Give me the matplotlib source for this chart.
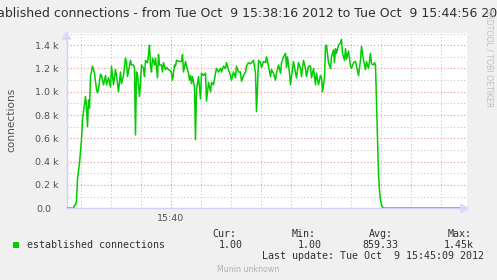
import matplotlib
matplotlib.use("Agg")
import matplotlib.pyplot as plt
from matplotlib.transforms import ScaledTranslation

# seconds after 15:38:16
seconds = [0, 7, 8, 9, 10, 11, 13, 15, 16, 19, 20, 21, 22, 23, 24, 26, 28, 30, 31, 32,
           34, 35, 37, 39, 40, 42, 44, 45, 47, 49, 50, 52, 54, 55, 57, 59, 60, 61, 63, 64,
           65, 67, 68, 69, 70, 71, 73, 74, 75, 77, 78, 79, 81, 82, 83, 84, 85, 86, 88, 89,
           90, 91, 92, 93, 95, 96, 97, 99, 100, 102, 104, 105, 106, 108, 109, 110, 113, 115, 116, 117,
           119, 120, 122, 123, 124, 125, 126, 128, 129, 130, 132, 134, 135, 137, 139, 140, 142, 144, 145, 147,
           149, 150, 152, 154, 155, 157, 159, 160, 162, 164, 165, 167, 169, 170, 172, 174, 175, 177, 179, 180,
           182, 184, 185, 187, 189, 190, 191, 192, 194, 195, 197, 199, 200, 202, 204, 205, 207, 209, 210, 212,
           214, 215, 217, 219, 220, 221, 223, 224, 225, 227, 229, 230, 232, 234, 235, 237, 239, 240, 242, 244,
           245, 247, 249, 250, 252, 254, 255, 256, 258, 259, 260, 262, 264, 265, 267, 268, 269, 270, 272, 274,
           275, 276, 278, 279, 280, 282, 284, 285, 287, 289, 290, 292, 294, 295, 297, 299, 300, 302, 304, 305,
           307, 308, 309, 310, 311, 312, 313, 314, 315, 316, 317, 400]
connections = [1, 1, 25, 30, 60, 250, 390, 590, 760, 960, 870, 700, 930, 860, 1130, 1220, 1160, 1020, 990, 1030,
               1150, 1140, 1060, 1140, 1060, 1120, 1040, 1220, 1060, 1190, 1140, 1000, 1170, 1070, 1140, 1290, 1250, 1130, 1220, 1270,
               1230, 1230, 1200, 630, 1170, 1150, 960, 1080, 1230, 1200, 1130, 1270, 1250, 1320, 1400, 1220, 1170, 1290, 1230, 1290,
               1200, 1120, 1320, 1230, 1230, 1170, 1250, 1190, 1210, 1190, 1180, 1160, 1100, 1230, 1220, 1270, 1260, 1260, 1320, 1170,
               1260, 1220, 1160, 1100, 1140, 1070, 1130, 1040, 590, 1020, 1130, 940, 1160, 1140, 1160, 920, 1080, 1000, 1080, 1060,
               1160, 1200, 1170, 1200, 1170, 1220, 1200, 1250, 1190, 1140, 1100, 1170, 1120, 1220, 1170, 1170, 1090, 1140, 1170, 1220,
               1250, 1240, 1250, 1270, 1160, 830, 1030, 1270, 1250, 1210, 1260, 1250, 1300, 1220, 1130, 1190, 1160, 1100, 1160, 1230,
               1160, 1250, 1300, 1330, 1210, 1300, 1160, 1060, 1130, 1260, 1160, 1120, 1250, 1200, 1130, 1270, 1200, 1130, 1220, 1220,
               1120, 1200, 1060, 1160, 1060, 1140, 1120, 1000, 1120, 1390, 1400, 1250, 1200, 1300, 1360, 1250, 1370, 1330, 1400, 1420,
               1450, 1330, 1270, 1370, 1280, 1350, 1220, 1200, 1250, 1260, 1220, 1140, 1270, 1390, 1270, 1190, 1260, 1200, 1330, 1240,
               1230, 1250, 1230, 900, 600, 300, 150, 70, 30, 10, 1, 1]

ytick_vals = [0, 200, 400, 600, 800, 1000, 1200, 1400]
ytick_labels = ["0.0", "0.2 k", "0.4 k", "0.6 k", "0.8 k", "1.0 k", "1.2 k", "1.4 k"]
xtick_vals = [104]
xtick_labels = ["15:40"]

W, H = 497, 280
fig = plt.figure(figsize=(W / 100, H / 100), dpi=100)
fig.patch.set_facecolor("#F0F0F0")

def fx(px):
    return px / W

def fy(py):
    return 1 - py / H

ax = fig.add_axes([fx(66.5), fy(208.3), fx(400), 175 / H])
ax.set_facecolor("white")
ax.set_xlim(0, 400)
ax.set_ylim(0, 1502)

# grid
for s in range(14, 400, 30):
    if s != 104:
        ax.axvline(s, color="#C8C8C8", lw=0.8, ls=(0, (1, 2)), zorder=1)
ax.axvline(104, color="#F09090", lw=0.8, ls=(0, (1, 2)), zorder=1)
for v in range(100, 1600, 100):
    if v % 200 == 0:
        ax.axhline(v, color="#F09090", lw=0.8, ls=(0, (1, 2)), zorder=1)
    else:
        ax.axhline(v, color="#C8C8C8", lw=0.8, ls=(0, (1, 2)), zorder=1)

ax.plot(seconds, connections, color="#00CC00", lw=1.1, zorder=3)

for sp in ["top", "right"]:
    ax.spines[sp].set_visible(False)
for sp in ["left", "bottom"]:
    ax.spines[sp].set_color("#D0D0F8")
    ax.spines[sp].set_linewidth(1.0)
    ax.spines[sp].set_zorder(2)

ax.set_yticks(ytick_vals)
ax.set_yticklabels(ytick_labels)
ax.set_xticks(xtick_vals)
ax.set_xticklabels(xtick_labels)
ax.tick_params(axis="both", length=0, labelsize=6.8, colors="#505050", pad=6)
ax.tick_params(axis="x", pad=4)
lbl0 = ax.get_yticklabels()[0]
lbl0.set_transform(lbl0.get_transform() + ScaledTranslation(-6.7 / 100, 0, fig.dpi_scale_trans))

# arrows on axes
ax.annotate("", xy=(1.0135, 0), xytext=(0.99, 0), xycoords="axes fraction",
            arrowprops=dict(arrowstyle="-|>,head_length=0.5,head_width=0.3", color="#D8D8FF", lw=1), annotation_clip=False)
ax.annotate("", xy=(0, 1.03), xytext=(0, 0.99), xycoords="axes fraction",
            arrowprops=dict(arrowstyle="-|>,head_length=0.5,head_width=0.3", color="#D8D8FF", lw=1), annotation_clip=False)

fig.text(fx(11), fy(120), "connections", rotation=90, ha="center", va="center",
         fontsize=7.6, color="#505050")

fig.text(fx(246), fy(17.3),
         "established connections - from Tue Oct  9 15:38:16 2012 to Tue Oct  9 15:44:56 2012",
         ha="center", va="baseline", fontsize=9.0, color="#303030")

fig.text(fx(489), fy(8), "RRDTOOL / TOBI OETIKER", rotation=270, ha="center", va="top",
         fontsize=5.6, color="#C0C0C0")

mono = "DejaVu Sans Mono"
fs = 7.16
col = "#303030"
fig.patches.append(plt.Rectangle((fx(13.3), fy(247.5)), fx(6), 5.5 / H, transform=fig.transFigure,
                                 facecolor="#00CC00", edgecolor="none"))
fig.text(fx(26.7), fy(248.3), "established connections", family=mono, fontsize=fs, color=col, va="baseline")
for x, t in [(212.7, "Cur:"), (291.7, "Min:"), (369.3, "Avg:"), (447.3, "Max:")]:
    fig.text(fx(x), fy(237.3), t, family=mono, fontsize=fs, color=col, va="baseline")
for x, t in [(218.3, "1.00"), (297.7, "1.00"), (362.7, "859.33"), (443.3, "1.45k")]:
    fig.text(fx(x), fy(248.3), t, family=mono, fontsize=fs, color=col, va="baseline")
fig.text(fx(261.7), fy(259.3), "Last update: Tue Oct  9 15:45:09 2012", family=mono, fontsize=fs,
         color=col, va="baseline")
fig.text(fx(216.7), fy(272.3), "Munin unknown", fontsize=5.7, color="#B0B0B0", va="baseline")

fig.savefig("out.png", dpi=100, facecolor=fig.get_facecolor())
